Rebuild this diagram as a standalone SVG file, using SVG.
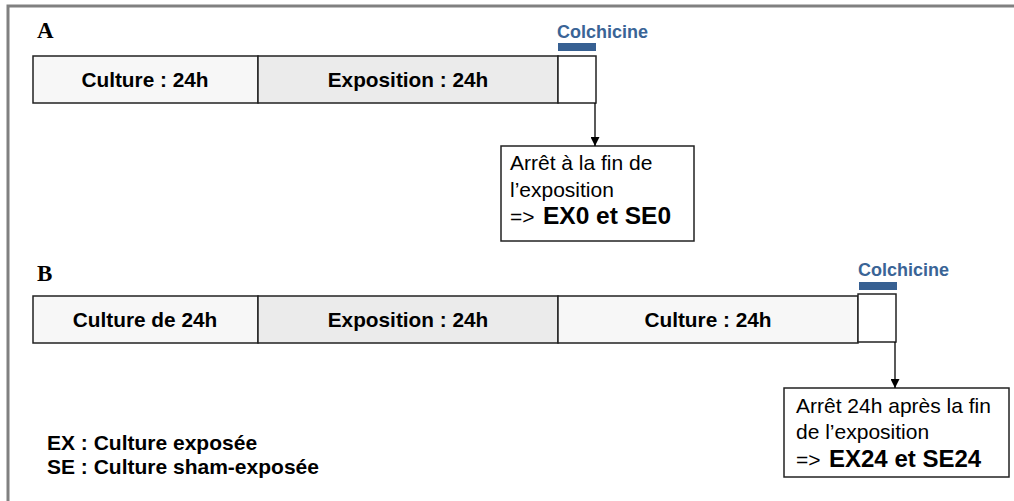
<svg xmlns="http://www.w3.org/2000/svg" width="1014" height="501" viewBox="0 0 1014 501">
<defs>
<marker id="arr" viewBox="0 0 10 10" refX="10" refY="5" markerWidth="10" markerHeight="9" markerUnits="userSpaceOnUse" orient="auto">
<path d="M0,0 L10,5 L0,10 z" fill="#000"/>
</marker>
<style>
.cell{stroke:#222;stroke-width:1.5}
.cul{fill:#f7f7f7}
.exp{fill:#ebebeb}
.lbl{font-family:"Liberation Sans",Arial,sans-serif;font-weight:bold;font-size:20.8px;fill:#000;text-anchor:middle}
.colch{font-family:"Liberation Sans",Arial,sans-serif;font-weight:bold;font-size:18px;fill:#3a6496}
.bar{fill:#376092}
.panel{font-family:"Liberation Serif","Times New Roman",serif;font-weight:bold;font-size:23px;fill:#000}
.box{fill:#fff;stroke:#222;stroke-width:1.5}
.txt{font-family:"Liberation Sans",Arial,sans-serif;font-size:21px;fill:#000}
.bold{font-weight:bold;font-size:24.5px}
.boldb{font-weight:bold;font-size:24px}
.leg{font-family:"Liberation Sans",Arial,sans-serif;font-weight:bold;font-size:21px;fill:#000}
.conn{stroke:#000;stroke-width:1.3;fill:none}
</style>
</defs>
<rect x="0" y="0" width="1014" height="501" fill="#fff"/>
<path d="M1014,6 H8 V501" fill="none" stroke="#808080" stroke-width="3"/>

<g id="panelA">
<text class="panel" x="37" y="38">A</text>
</g>
<g id="A-culture">
<rect class="cell cul" x="33" y="56" width="225" height="47"/>
<text class="lbl" x="145" y="87">Culture : 24h</text>
</g>
<g id="A-exposition">
<rect class="cell exp" x="258" y="56" width="300" height="47"/>
<text class="lbl" x="408" y="87">Exposition : 24h</text>
</g>
<g id="A-colchicine">
<rect class="cell" fill="#fff" x="558" y="56" width="38" height="47"/>
<rect class="bar" x="558" y="43" width="38" height="8"/>
<text class="colch" x="557" y="38">Colchicine</text>
</g>
<g id="A-result">
<rect class="box" x="501" y="146" width="193" height="95"/>
<text class="txt" x="510" y="170">Arrêt à la fin de</text>
<text class="txt" x="510" y="197">l’exposition</text>
<text class="txt" x="510" y="224">=&gt;<tspan class="bold" x="543">EX0 et SE0</tspan></text>
</g>

<g id="panelB">
<text class="panel" x="37" y="281">B</text>
</g>
<g id="B-culture1">
<rect class="cell cul" x="33" y="296" width="225" height="47"/>
<text class="lbl" x="145" y="327">Culture de 24h</text>
</g>
<g id="B-exposition">
<rect class="cell exp" x="258" y="296" width="300" height="47"/>
<text class="lbl" x="408" y="327">Exposition : 24h</text>
</g>
<g id="B-culture2">
<rect class="cell cul" x="558" y="296" width="300" height="47"/>
<text class="lbl" x="708" y="327">Culture : 24h</text>
</g>
<g id="B-colchicine">
<rect class="cell" fill="#fff" x="858" y="294" width="38" height="48"/>
<rect class="bar" x="859" y="282" width="38" height="8"/>
<text class="colch" x="858" y="276">Colchicine</text>
</g>
<g id="B-result">
<rect class="box" x="784" y="388" width="225" height="89"/>
<text class="txt" x="796" y="413">Arrêt 24h après la fin</text>
<text class="txt" x="796" y="439">de l’exposition</text>
<text class="txt" x="796" y="467">=&gt;<tspan class="boldb" x="829">EX24 et SE24</tspan></text>
</g>

<g id="legend">
<text class="leg" x="47" y="450">EX : Culture exposée</text>
<text class="leg" x="47" y="474">SE : Culture sham-exposée</text>
</g>

<g id="connectors">
<line class="conn" x1="595" y1="103" x2="595" y2="146" marker-end="url(#arr)"/>
<line class="conn" x1="895" y1="342" x2="895" y2="388" marker-end="url(#arr)"/>
</g>
</svg>
